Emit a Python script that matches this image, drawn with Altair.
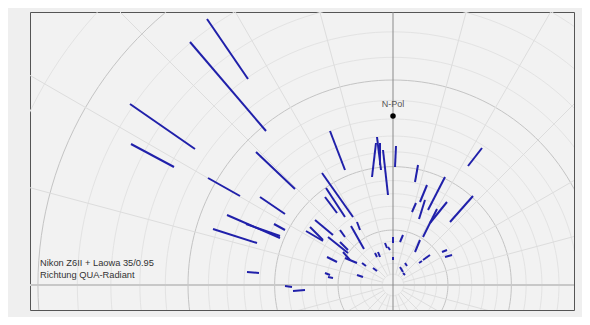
import numpy as np
import pandas as pd
import altair as alt

# meteor trails, offsets from the radiant (px units of the gnomonic plot, y up)
x_start = [-186, -203, -263, -262, -137, -185, -133, -166, -147, -119, -180, -146, -108, -100,
           -63, -17, -16, -10, -13, 3,
           -71, -67, -68, -36, -42, -78, -83, -87, -65, -53, -53, -50, -66, -48, -31, -20,
           -68, -65, -36, -18, -15, -8, -5, 0, 0, 10, 7, 12, 10,
           25, 34, 32, 23, 52, 54, 44, 27, 80, 37, 29, 49, 52, 89]
y_start = [266, 243, 181, 141, 133, 107, 88, 70, 61, 61, 56, 13, -1, -6,
           154, 142, 148, 135, 142, 139,
           112, 97, 88, 63, 59, 65, 58, 54, 48, 55, 43, 33, 28, 27, 22, 17,
           12, 8, 10, 32, 33, 42, 38, 48, 28, 50, 18, 22, 12,
           120, 100, 85, 82, 108, 83, 76, 45, 89, 30, 24, 33, 28, 137]
x_end = [-145, -127, -198, -219, -98, -153, -108, -113, -113, -108, -136, -134, -101, -88,
         -48, -21, -12, -5, -13, 2,
         -40, -48, -56, -33, -29, -60, -70, -70, -45, -48, -45, -43, -56, -36, -27, -16,
         -63, -60, -30, -16, -13, -6, -3, 0, 0, 7, 10, 14, 12,
         22, 27, 26, 19, 35, 37, 30, 22, 57, 30, 26, 54, 59, 75]
y_end = [206, 154, 136, 118, 96, 89, 71, 47, 49, 55, 42, 12, -2, -5,
         115, 108, 115, 90, 120, 118,
         68, 68, 72, 55, 36, 50, 45, 44, 32, 48, 35, 25, 23, 22, 19, 14,
         10, 7, 8, 28, 28, 37, 35, 42, 25, 43, 13, 19, 10,
         103, 83, 66, 73, 75, 62, 48, 33, 63, 25, 22, 35, 30, 119]

pole_x = [0]
pole_y = [169]
pole_label = ["N-Pol"]

caption = ["Nikon Z6II + Laowa 35/0.95", "Richtung QUA-Radiant"]

# grid geometry (gnomonic projection around the radiant)
K = 205.0
circle_deg = list(range(3, 70, 3))
radial_deg = list(range(0, 360, 15))

XD = [-363, 181]
YD = [-25, 273]

rows = []
phi = np.radians(np.arange(0, 361, 2))
for d in circle_deg:
    r = K * np.tan(np.radians(d))
    kind = "major" if d % 15 == 0 else "minor"
    for i, p in enumerate(phi):
        rows.append({"x": r * np.cos(p), "y": r * np.sin(p), "id": f"c{d}", "o": i, "kind": kind})
circles = pd.DataFrame(rows)

rows = []
r0 = K * np.tan(np.radians(3))
for a in radial_deg:
    if a % 90 == 0:
        continue
    t = np.radians(a)
    rows.append({"x": r0 * np.cos(t), "y": r0 * np.sin(t), "id": f"r{a}", "o": 0})
    rows.append({"x": 700 * np.cos(t), "y": 700 * np.sin(t), "id": f"r{a}", "o": 1})
radials = pd.DataFrame(rows)

xs = alt.Scale(domain=XD, nice=False, zero=False)
ys = alt.Scale(domain=YD, nice=False, zero=False)

def lines(df, color, width):
    return alt.Chart(df).mark_line(clip=True, color=color, strokeWidth=width).encode(
        x=alt.X("x:Q", scale=xs, axis=None),
        y=alt.Y("y:Q", scale=ys, axis=None),
        detail="id:N",
        order="o:Q",
    )

minor = lines(circles[circles.kind == "minor"], "#e3e3e3", 1)
major = lines(circles[circles.kind == "major"], "#c4c4c4", 1)
rad = lines(radials, "#dddddd", 1)

hline = alt.Chart(pd.DataFrame({"x": [XD[0]], "x2": [XD[1]], "y": [0]})).mark_rule(
    color="#c8c8c8", strokeWidth=2, clip=True).encode(
    x=alt.X("x:Q", scale=xs, axis=None), x2="x2:Q", y=alt.Y("y:Q", scale=ys, axis=None))
vline = alt.Chart(pd.DataFrame({"y": [YD[0]], "y2": [YD[1]], "x": [0]})).mark_rule(
    color="#8a8a8a", strokeWidth=1, clip=True).encode(
    y=alt.Y("y:Q", scale=ys, axis=None), y2="y2:Q", x=alt.X("x:Q", scale=xs, axis=None))

met = pd.DataFrame({"x": x_start, "y": y_start, "x2": x_end, "y2": y_end})
meteors = alt.Chart(met).mark_rule(color="#2020aa", strokeWidth=2, clip=True).encode(
    x=alt.X("x:Q", scale=xs, axis=None), y=alt.Y("y:Q", scale=ys, axis=None),
    x2="x2:Q", y2="y2:Q")

pole = pd.DataFrame({"x": pole_x, "y": pole_y, "t": pole_label})
pole_pt = alt.Chart(pole).mark_circle(color="#000000", size=30, opacity=1).encode(
    x=alt.X("x:Q", scale=xs, axis=None), y=alt.Y("y:Q", scale=ys, axis=None))
pole_tx = alt.Chart(pole).mark_text(dy=-12, fontSize=9, color="#555555", font="Liberation Sans").encode(
    x=alt.X("x:Q", scale=xs, axis=None), y=alt.Y("y:Q", scale=ys, axis=None), text="t:N")

cap = pd.DataFrame({"t": caption, "i": [0, 1]})
cap_tx = alt.Chart(cap).mark_text(align="left", baseline="middle", fontSize=9.3,
                                  color="#333333", font="Liberation Sans").encode(
    x=alt.value(10),
    y=alt.Y("i:Q", scale=alt.Scale(domain=[0, 1], range=[251, 263]), axis=None),
    text="t:N")

chart = alt.layer(minor, major, rad, hline, vline, meteors, pole_pt, pole_tx, cap_tx).resolve_scale(
    y="independent").properties(
    width=544, height=298,
    autosize=alt.AutoSizeParams(type="none"),
    padding={"left": 22, "top": 4, "right": 8, "bottom": 7},
    background="#efefef",
).configure_view(fill="#f2f2f2", stroke="#555555", strokeWidth=1)

chart.save("out.html", embed_options={"renderer": "svg", "actions": False})
